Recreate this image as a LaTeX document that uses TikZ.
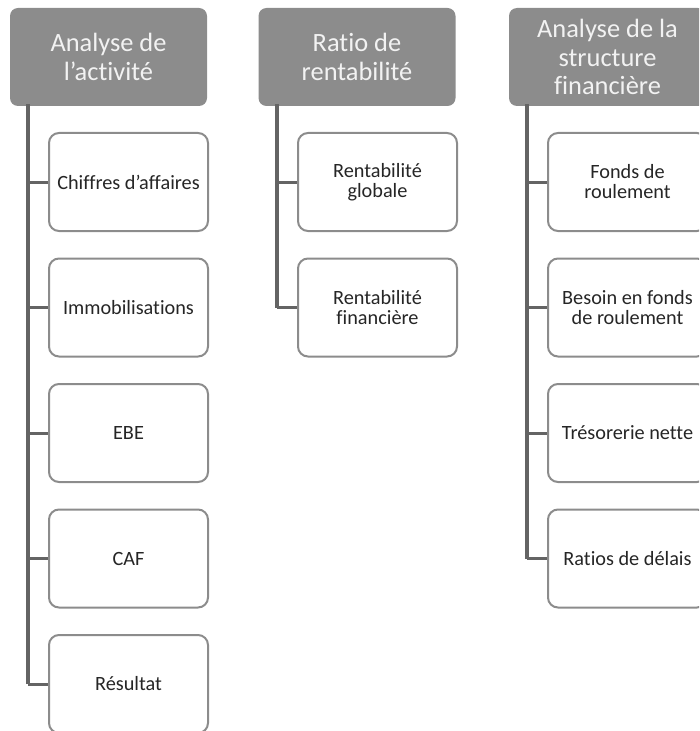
\documentclass[tikz,border=0pt]{standalone}
\usepackage{fontspec}
\setmainfont[Ligatures=NoCommon]{Carlito}
\usepackage{tikz}

\definecolor{headgray}{RGB}{140,140,140}
\definecolor{headtext}{RGB}{242,242,242}
\definecolor{boxgray}{RGB}{140,140,140}
\definecolor{linegray}{RGB}{100,100,100}

\begin{document}
\begin{tikzpicture}[x=0.75pt,y=0.75pt,yscale=-1,xscale=1,
  headbox/.style={fill=headgray,rounded corners=6pt,minimum width=147.75pt,minimum height=73.5pt,
    inner sep=0pt,align=center,text=headtext,font=\fontsize{19.8}{21.5}\selectfont},
  itembox/.style={draw=boxgray,line width=1.5pt,fill=white,rounded corners=7.5pt,minimum width=119.25pt,
    minimum height=73.5pt,inner sep=0pt,align=center,text=black!85,font=\fontsize{15.2}{15}\selectfont},
  trunk/.style={draw=linegray,line width=3pt},
  branch/.style={draw=linegray,line width=2.25pt}]
\useasboundingbox (0,0) rectangle (699,731);
\clip (0,0) rectangle (699,731);

% Header boxes
\node [headbox] (act) at (108.5,57) {Analyse de\\l’activité};
\node [headbox] (rent) at (357,57) {Ratio de\\rentabilité};
\node [headbox] (struct) at (607.5,57) {Analyse de la\\structure\\financière};

% Items of the first column
\node [itembox] (act1) at (128.5,182) {Chiffres d’affaires};
\node [itembox] (act2) at (128.5,307.5) {Immobilisations};
\node [itembox] (act3) at (128.5,433) {EBE};
\node [itembox] (act4) at (128.5,558.5) {CAF};
\node [itembox] (act5) at (128.5,684) {Résultat};

% Items of the second column
\node [itembox] (rent1) at (377.5,182) {Rentabilité\\globale};
\node [itembox] (rent2) at (377.5,307.5) {Rentabilité\\financière};

% Items of the third column
\node [itembox] (struct1) at (627.5,182) {Fonds de\\roulement};
\node [itembox] (struct2) at (627.5,307.5) {Besoin en fonds\\de roulement};
\node [itembox] (struct3) at (627.5,433) {Trésorerie nette};
\node [itembox] (struct4) at (627.5,558.5) {Ratios de délais};

% Trunks
\coordinate (acttop) at ([xshift=13.5pt,yshift=-1.5pt]act.south west);
\coordinate (renttop) at ([xshift=14pt,yshift=-1.5pt]rent.south west);
\coordinate (structtop) at ([xshift=14pt,yshift=-1.5pt]struct.south west);
\draw [trunk] (acttop) -- (acttop |- act5.west);
\draw [trunk] (renttop) -- (renttop |- rent2.west);
\draw [trunk] (structtop) -- (structtop |- struct4.west);

% Branches
\foreach \i in {1,...,5}
  \draw [branch] (acttop |- act\i.west) -- (act\i.west);
\foreach \i in {1,2}
  \draw [branch] (renttop |- rent\i.west) -- (rent\i.west);
\foreach \i in {1,...,4}
  \draw [branch] (structtop |- struct\i.west) -- (struct\i.west);

\end{tikzpicture}
\end{document}
